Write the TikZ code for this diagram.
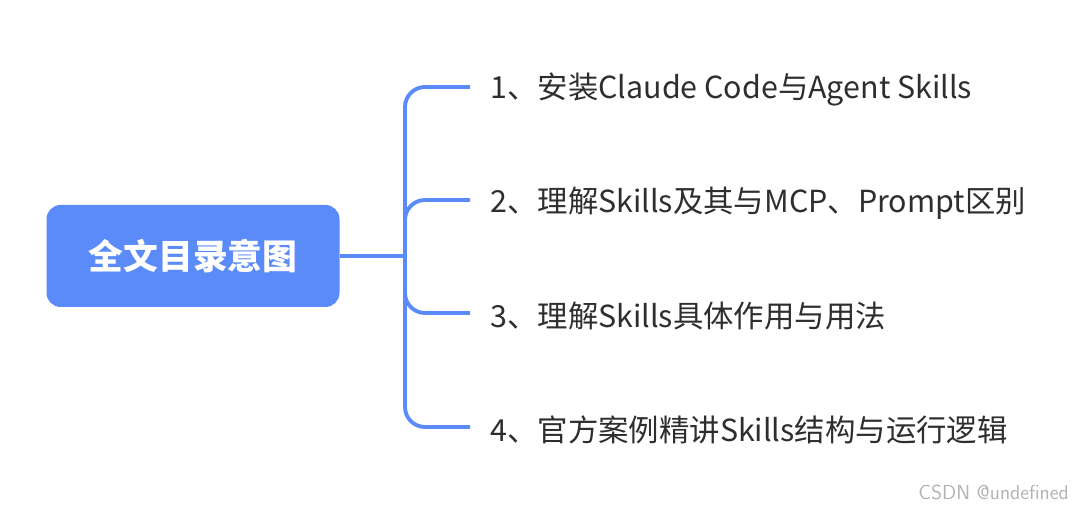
\documentclass[tikz,border=0pt]{standalone}
\usepackage{fontspec}
\setmainfont{Noto Sans CJK SC}
\usetikzlibrary{positioning}
\definecolor{mapblue}{HTML}{5B8BF9}
\definecolor{itemtext}{HTML}{2E2E2E}

\begin{document}
\begin{tikzpicture}
\tikzset{
  root/.style={fill=mapblue,rounded corners=8pt,minimum width=5.86cm,minimum height=2.04cm,text=white,font=\fontsize{19.8}{23}\selectfont\bfseries},
  item/.style={anchor=west,text=itemtext,font=\fontsize{17.3}{20}\selectfont,inner sep=0pt},
  branch/.style={draw=mapblue,line width=2.2pt,rounded corners=0.4cm}
}
\useasboundingbox (0,0) rectangle (21.6,10.2);
\node[root] (top) at (3.86,5.08) {全文目录意图};
\coordinate (hub) at (8.1,5.08);
\foreach \n/\y/\t in {1/8.46/{1、安装Claude Code与Agent Skills},
                      2/6.2/{2、理解Skills及其与MCP、Prompt区别},
                      3/3.94/{3、理解Skills具体作用与用法},
                      4/1.66/{4、官方案例精讲Skills结构与运行逻辑}}{
  \coordinate (e\n) at (9.4,\y);
  \node[item] (t\n) at (9.8,\y-0.06) {\t};
  \draw[branch] (hub) |- (e\n);
}
\draw[branch] (top.east) -- (hub);
\node[anchor=east,text=black!30,font=\fontsize{11.5}{13}\selectfont\sffamily] (mark) at (21.5,0.36) {CSDN @undefined};
\end{tikzpicture}
\end{document}
